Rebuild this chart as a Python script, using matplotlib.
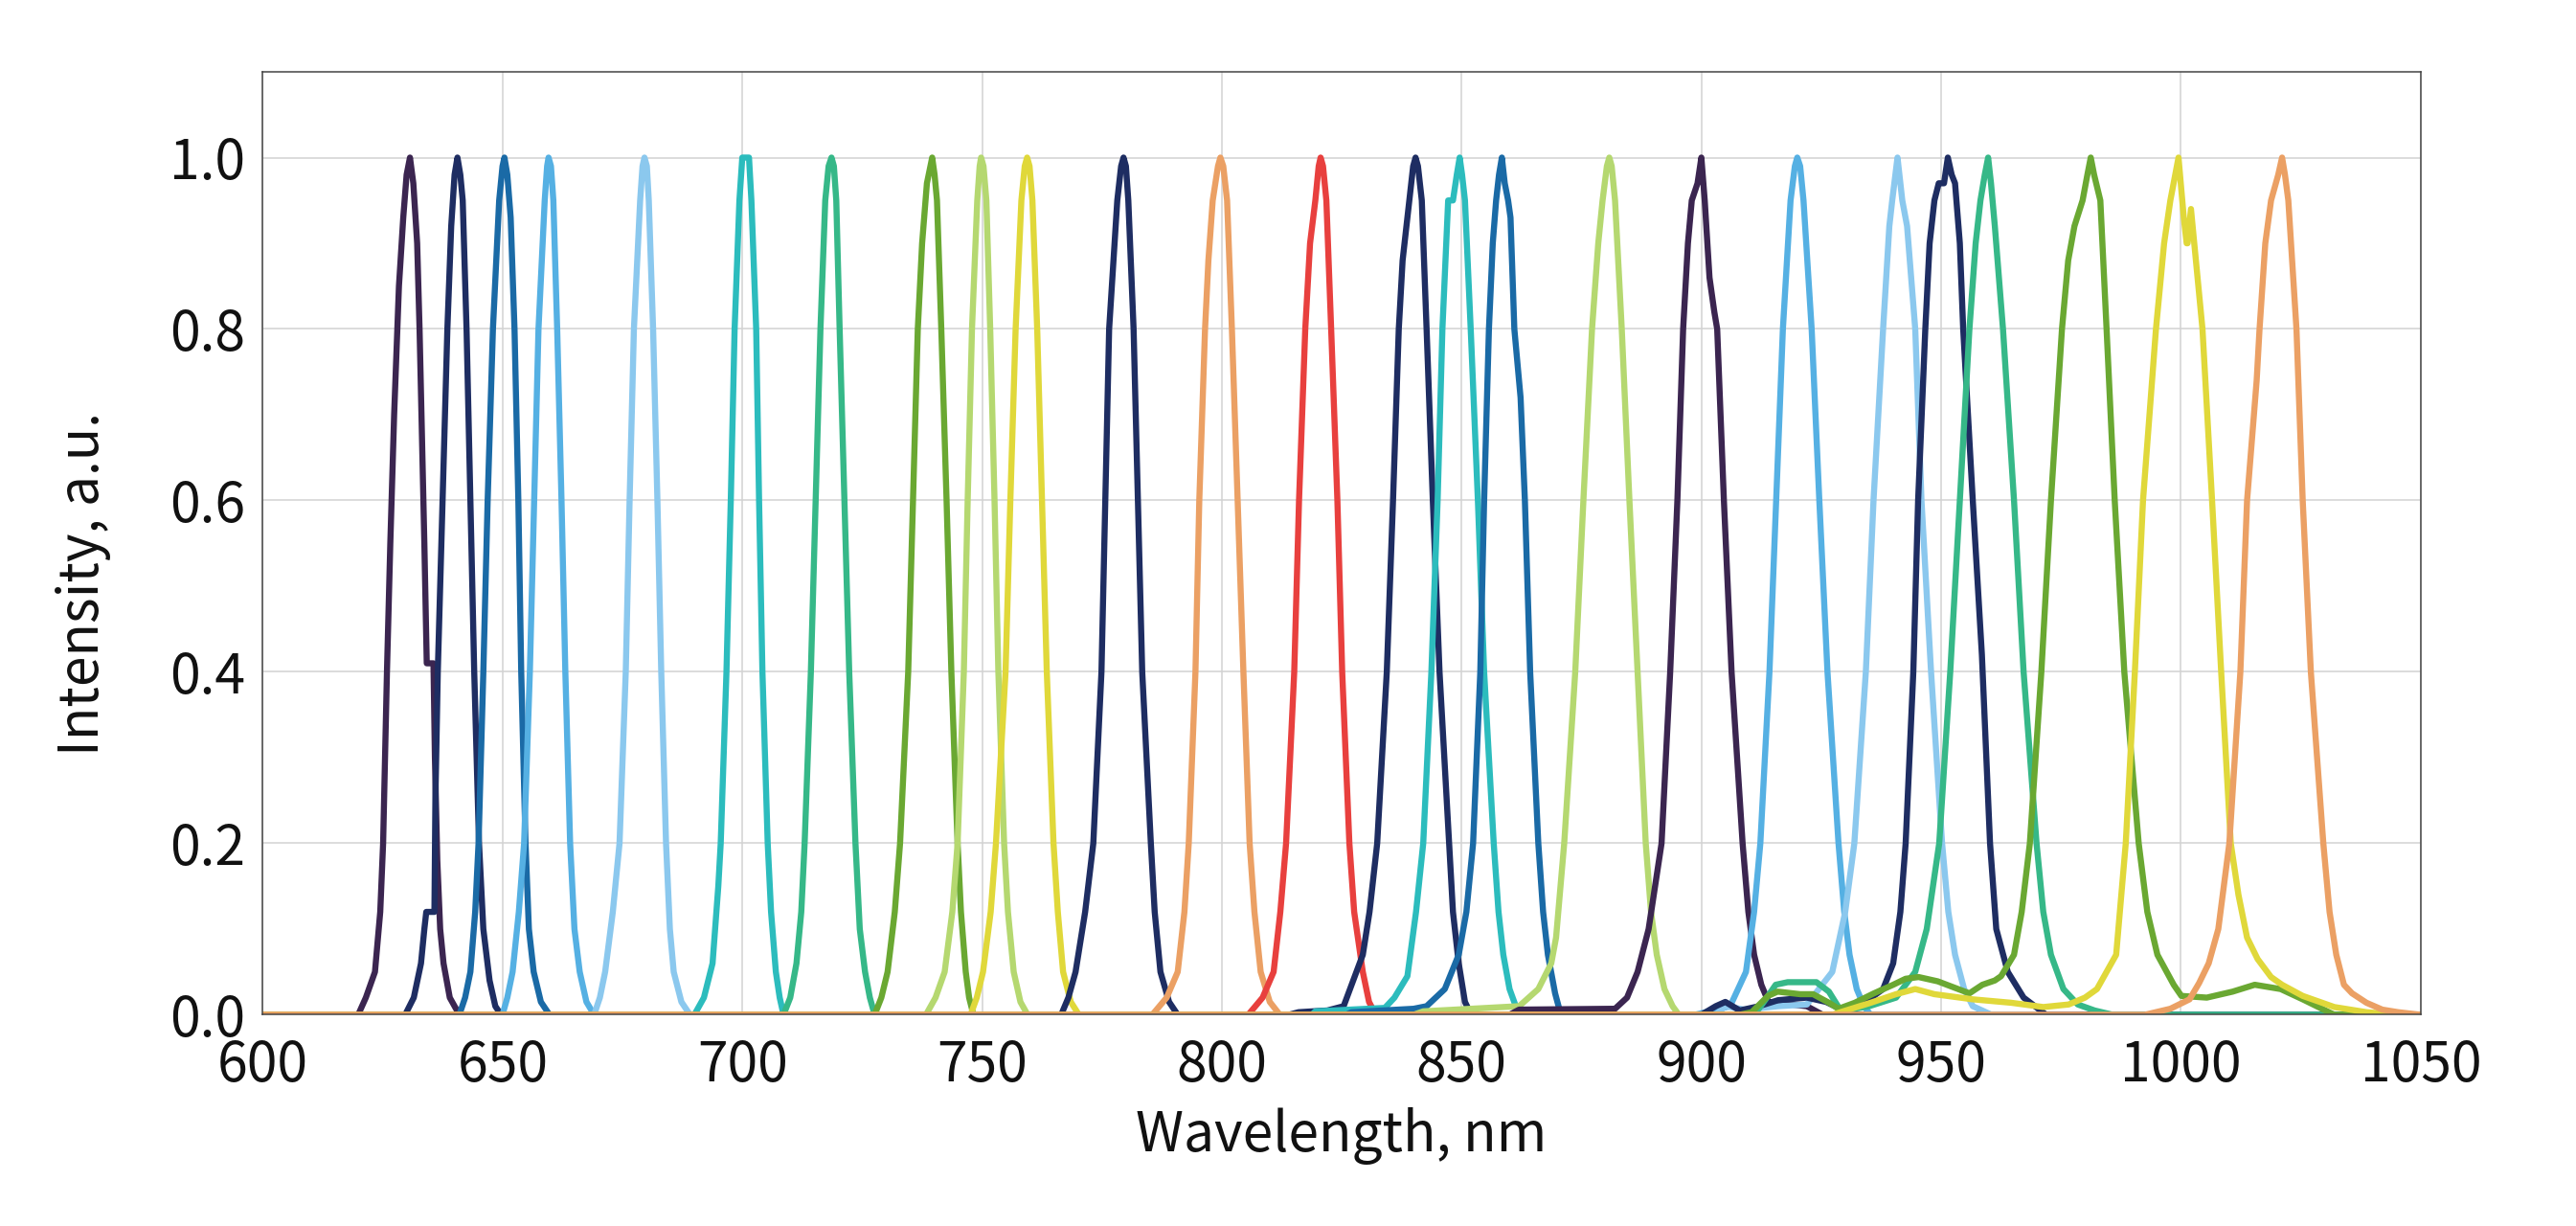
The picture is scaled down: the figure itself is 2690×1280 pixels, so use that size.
import matplotlib.pyplot as plt

plt.rcParams['font.family'] = ['Noto Sans CJK SC', 'DejaVu Sans']
plt.rcParams['font.weight'] = 'light'

# measured spectra, wavelength (nm) and normalised intensity
wl_630 = [600, 619.9, 621.5, 623.4, 624.5, 625.1, 625.9, 626.6, 627.4, 628.4, 629.3, 630.0, 630.7, 631.4,
          632.2, 632.7, 633.3, 633.7, 634.2, 635.6, 635.9, 636.4, 637.0, 637.7, 639.0, 641.0, 1050]
in_630 = [0, 0, 0.02, 0.05, 0.12, 0.2, 0.4, 0.55, 0.7, 0.85, 0.93, 0.98, 1.0, 0.97,
          0.9, 0.8, 0.65, 0.55, 0.41, 0.41, 0.3, 0.18, 0.1, 0.06, 0.02, 0, 0]

wl_640 = [600, 629.7, 631.5, 633.0, 633.7, 634.1, 635.8, 636.0, 636.5, 637.0, 637.5, 638.5, 639.3, 640.0,
          640.6, 641.2, 641.7, 642.5, 643.3, 644.1, 645.1, 646.0, 647.3, 648.5, 649.7, 1050]
in_640 = [0, 0, 0.02, 0.06, 0.1, 0.12, 0.12, 0.25, 0.4, 0.5, 0.6, 0.8, 0.92, 0.98,
          1.0, 0.98, 0.95, 0.8, 0.6, 0.4, 0.2, 0.1, 0.04, 0.01, 0, 0]

wl_650 = [600, 641.0, 642.2, 643.3, 644.3, 645.0, 646.0, 646.9, 648.0, 649.3, 650.0, 650.4, 651.0, 651.7,
          652.5, 653.3, 653.9, 654.8, 655.5, 656.5, 658.0, 659.8, 1050]
in_650 = [0, 0, 0.02, 0.05, 0.12, 0.2, 0.4, 0.6, 0.8, 0.95, 0.99, 1.0, 0.98, 0.93,
          0.8, 0.6, 0.4, 0.2, 0.1, 0.05, 0.015, 0, 0]

wl_660 = [600, 650.0, 651.0, 652.1, 653.4, 654.5, 655.7, 656.6, 657.5, 658.8, 659.3, 659.6, 660.1, 660.6,
          661.4, 662.3, 663.1, 664.1, 665.0, 666.1, 667.5, 669.1, 1050]
in_660 = [0, 0, 0.02, 0.05, 0.12, 0.2, 0.4, 0.6, 0.8, 0.95, 0.99, 1.0, 0.99, 0.95,
          0.8, 0.6, 0.4, 0.2, 0.1, 0.05, 0.015, 0, 0]

wl_680 = [600, 669.1, 670.3, 671.4, 673.0, 674.4, 675.7, 676.5, 677.4, 678.7, 679.2, 679.6, 680.1, 680.5,
          681.4, 682.3, 683.1, 684.1, 684.9, 685.7, 687.3, 689.1, 1050]
in_680 = [0, 0, 0.02, 0.05, 0.12, 0.2, 0.4, 0.6, 0.8, 0.95, 0.99, 1.0, 0.99, 0.95,
          0.8, 0.6, 0.4, 0.2, 0.1, 0.05, 0.015, 0, 0]

wl_700 = [600, 690.0, 692.0, 693.8, 695.0, 695.5, 696.7, 697.6, 698.4, 699.4, 700.0, 701.4, 701.9, 702.9,
          703.5, 704.2, 705.3, 706.0, 707.0, 707.8, 708.6, 1050]
in_700 = [0, 0, 0.02, 0.06, 0.15, 0.2, 0.4, 0.6, 0.8, 0.95, 1.0, 1.0, 0.95, 0.8,
          0.6, 0.4, 0.2, 0.12, 0.05, 0.02, 0, 0]

wl_718 = [600, 708.6, 710.0, 711.3, 712.3, 713.0, 714.3, 715.3, 716.3, 717.3, 718.0, 718.6, 719.1, 719.6,
          720.3, 721.3, 722.3, 723.6, 724.5, 725.6, 726.6, 727.6, 1050]
in_718 = [0, 0, 0.02, 0.06, 0.12, 0.2, 0.4, 0.6, 0.8, 0.95, 0.99, 1.0, 0.99, 0.95,
          0.8, 0.6, 0.4, 0.2, 0.1, 0.05, 0.02, 0, 0]

wl_739 = [600, 727.6, 729.0, 730.3, 731.8, 732.9, 734.6, 735.6, 736.6, 737.5, 738.5, 739.6, 740.1, 740.6,
          741.5, 742.6, 743.6, 744.9, 745.6, 746.6, 747.3, 748.2, 1050]
in_739 = [0, 0, 0.02, 0.05, 0.12, 0.2, 0.4, 0.6, 0.8, 0.9, 0.97, 1.0, 0.98, 0.95,
          0.8, 0.6, 0.4, 0.2, 0.12, 0.05, 0.02, 0, 0]

wl_749 = [600, 738.3, 740.3, 742.2, 743.8, 744.9, 746.2, 747.0, 747.9, 749.0, 749.5, 749.8, 750.3, 750.9,
          751.7, 752.6, 753.4, 754.6, 755.4, 756.6, 758.0, 759.5, 1050]
in_749 = [0, 0, 0.02, 0.05, 0.12, 0.2, 0.4, 0.6, 0.8, 0.95, 0.99, 1.0, 0.99, 0.95,
          0.8, 0.6, 0.4, 0.2, 0.12, 0.05, 0.015, 0, 0]

wl_759 = [600, 747.6, 748.9, 750.2, 751.8, 752.9, 754.9, 755.9, 757.0, 758.2, 758.9, 759.4, 759.9, 760.5,
          761.5, 762.5, 763.5, 764.9, 765.8, 766.9, 768.5, 770.2, 1050]
in_759 = [0, 0, 0.02, 0.05, 0.12, 0.2, 0.4, 0.6, 0.8, 0.95, 0.99, 1.0, 0.99, 0.95,
          0.8, 0.6, 0.4, 0.2, 0.12, 0.05, 0.015, 0, 0]

wl_779 = [600, 766.5, 768.0, 769.5, 771.5, 773.2, 774.9, 775.7, 776.5, 778.2, 779.0, 779.5, 780.0, 780.5,
          781.6, 782.5, 783.4, 785.2, 786.0, 787.2, 789.0, 790.8, 1050]
in_779 = [0, 0, 0.02, 0.05, 0.12, 0.2, 0.4, 0.6, 0.8, 0.95, 0.99, 1.0, 0.99, 0.95,
          0.8, 0.6, 0.4, 0.2, 0.12, 0.05, 0.015, 0, 0]

wl_800 = [600, 785.5, 788.5, 790.8, 792.2, 793.1, 794.5, 795.3, 796.5, 797.2, 798.1, 799.2, 799.7, 800.3,
          801.1, 802.1, 803.3, 804.5, 805.8, 806.8, 808.1, 810.0, 812.1, 1050]
in_800 = [0, 0, 0.02, 0.05, 0.12, 0.2, 0.4, 0.6, 0.8, 0.88, 0.95, 0.99, 1.0, 0.99,
          0.95, 0.8, 0.6, 0.4, 0.2, 0.12, 0.05, 0.015, 0, 0]

wl_820 = [600, 805.5, 808.5, 810.8, 812.2, 813.4, 815.1, 816.1, 817.4, 818.4, 819.5, 820.2, 820.6, 821.1,
          821.8, 822.8, 824.1, 825.1, 826.6, 827.6, 829.4, 830.7, 832.1, 1050]
in_820 = [0, 0, 0.02, 0.05, 0.12, 0.2, 0.4, 0.6, 0.8, 0.9, 0.95, 0.99, 1.0, 0.99,
          0.95, 0.8, 0.6, 0.4, 0.2, 0.12, 0.05, 0.015, 0, 0]

wl_840 = [600, 814.0, 816.0, 822.0, 825.4, 829.4, 830.8, 832.4, 834.4, 835.7, 836.9, 837.7, 839.1, 839.9,
          840.4, 840.9, 841.7, 842.7, 844.0, 845.4, 847.4, 848.2, 849.4, 850.7, 852.0, 1050]
in_840 = [0, 0, 0.003, 0.005, 0.01, 0.07, 0.12, 0.2, 0.4, 0.6, 0.8, 0.88, 0.95, 0.99,
          1.0, 0.99, 0.95, 0.8, 0.6, 0.4, 0.2, 0.12, 0.06, 0.015, 0, 0]

wl_849 = [600, 818.8, 819.5, 834.0, 836.0, 838.7, 840.5, 842.0, 843.7, 845.0, 846.0, 847.2, 848.2, 849.0,
          849.6, 850.1, 850.7, 851.9, 853.4, 854.7, 856.7, 857.7, 858.7, 860.0, 861.3, 862.0, 1050]
in_849 = [0, 0, 0.004, 0.008, 0.02, 0.045, 0.12, 0.2, 0.4, 0.6, 0.8, 0.95, 0.95, 0.98,
          1.0, 0.98, 0.95, 0.8, 0.6, 0.4, 0.2, 0.12, 0.07, 0.03, 0.01, 0, 0]

wl_858 = [600, 826.0, 827.0, 840.0, 842.7, 846.5, 849.4, 851.0, 852.4, 853.9, 854.7, 855.7, 856.5, 857.2,
          857.8, 858.4, 859.0, 859.7, 860.2, 861.0, 862.3, 863.2, 864.3, 866.0, 867.0, 868.0, 869.5, 870.7, 1050]
in_858 = [0, 0, 0.003, 0.007, 0.01, 0.03, 0.07, 0.12, 0.2, 0.4, 0.6, 0.8, 0.9, 0.95,
          0.98, 1.0, 0.97, 0.95, 0.93, 0.8, 0.72, 0.6, 0.4, 0.2, 0.12, 0.07, 0.025, 0, 0]

wl_880 = [600, 840.0, 842.0, 862.0, 866.0, 868.7, 869.7, 871.4, 873.7, 875.4, 877.2, 878.5, 879.4, 880.3,
          880.8, 881.3, 882.0, 883.4, 885.0, 886.7, 888.4, 889.5, 890.7, 892.3, 894.0, 895.3, 1050]
in_880 = [0, 0, 0.004, 0.01, 0.03, 0.06, 0.09, 0.2, 0.4, 0.6, 0.8, 0.9, 0.95, 0.99,
          1.0, 0.99, 0.95, 0.8, 0.6, 0.4, 0.2, 0.12, 0.07, 0.03, 0.01, 0, 0]

wl_900 = [600, 860.0, 862.0, 882.0, 884.5, 886.7, 889.0, 891.7, 893.5, 895.0, 896.2, 897.2, 898.0, 899.2,
          900.0, 900.7, 901.7, 902.7, 903.3, 904.7, 906.3, 908.6, 909.8, 911.0, 912.5, 914.0, 922.0, 925.3, 1050]
in_900 = [0, 0, 0.006, 0.007, 0.02, 0.05, 0.1, 0.2, 0.4, 0.6, 0.8, 0.9, 0.95, 0.97,
          1.0, 0.95, 0.86, 0.82, 0.8, 0.6, 0.4, 0.2, 0.12, 0.07, 0.035, 0.015, 0.01, 0, 0]

wl_920 = [600, 898.7, 906.0, 909.3, 911.0, 912.3, 914.2, 915.6, 917.0, 918.6, 919.5, 920.0, 920.6, 921.3,
          923.0, 924.6, 926.3, 928.6, 929.8, 930.9, 932.4, 933.9, 935.3, 1050]
in_920 = [0, 0, 0.01, 0.05, 0.12, 0.2, 0.4, 0.6, 0.8, 0.95, 0.99, 1.0, 0.99, 0.95,
          0.8, 0.6, 0.4, 0.2, 0.12, 0.07, 0.03, 0.01, 0, 0]

wl_940 = [600, 903.0, 905.0, 909.0, 916.0, 922.0, 927.3, 930.0, 931.9, 934.3, 935.9, 937.9, 939.2, 939.8,
          940.9, 941.5, 941.9, 942.9, 944.6, 945.9, 947.9, 950.2, 951.5, 952.9, 954.8, 956.6, 960.5, 1050]
in_940 = [0, 0, 0.01, 0.006, 0.01, 0.012, 0.05, 0.12, 0.2, 0.4, 0.6, 0.8, 0.92, 0.95,
          1.0, 0.97, 0.95, 0.92, 0.8, 0.6, 0.4, 0.2, 0.12, 0.07, 0.03, 0.01, 0, 0]

wl_952 = [600, 900.0, 903.0, 905.0, 908.0, 912.0, 916.0, 922.0, 926.0, 929.0, 933.0, 937.9, 940.0, 941.5,
          942.6, 944.2, 945.2, 946.7, 947.6, 948.6, 949.5, 950.6, 951.4, 952.2, 952.9, 953.9, 954.6, 956.6,
          958.5, 960.2, 961.5, 963.9, 967.2, 971.9, 1050]
in_952 = [0, 0, 0.01, 0.015, 0.005, 0.01, 0.017, 0.02, 0.015, 0.007, 0.01, 0.03, 0.06, 0.12,
          0.2, 0.4, 0.6, 0.8, 0.9, 0.95, 0.97, 0.97, 1.0, 0.98, 0.97, 0.9, 0.8, 0.6,
          0.42, 0.2, 0.1, 0.05, 0.02, 0, 0]

wl_960 = [600, 910.0, 912.0, 913.9, 915.5, 918.0, 924.0, 926.6, 928.6, 930.0, 935.0, 940.6, 944.6, 947.0,
          949.6, 951.9, 953.9, 955.9, 957.2, 958.2, 959.1, 959.8, 960.4, 961.2, 962.9, 965.2, 967.2, 969.9,
          971.3, 972.9, 975.5, 978.5, 982.0, 985.8, 1050]
in_960 = [0, 0, 0.007, 0.022, 0.035, 0.038, 0.038, 0.027, 0.009, 0.005, 0.01, 0.02, 0.05, 0.1,
          0.2, 0.4, 0.6, 0.8, 0.9, 0.95, 0.98, 1.0, 0.97, 0.92, 0.8, 0.6, 0.4, 0.2,
          0.12, 0.07, 0.03, 0.012, 0.005, 0, 0]

wl_980 = [600, 908.0, 910.5, 913.9, 915.9, 920.6, 923.3, 926.6, 928.6, 932.0, 936.0, 940.0, 942.6, 945.3,
          949.3, 955.9, 958.6, 961.2, 962.5, 965.2, 966.8, 968.5, 970.9, 972.9, 975.2, 976.5, 977.8, 979.5,
          980.5, 981.2, 981.9, 983.2, 984.5, 986.2, 988.2, 991.2, 993.0, 995.1, 998.5, 1000.1, 1005.4, 1010.8,
          1015.4, 1020.8, 1025.4, 1029.4, 1032.0, 1050]
in_980 = [0, 0, 0.003, 0.022, 0.027, 0.024, 0.024, 0.014, 0.007, 0.014, 0.025, 0.035, 0.042, 0.044,
          0.039, 0.025, 0.035, 0.04, 0.045, 0.07, 0.12, 0.2, 0.4, 0.6, 0.8, 0.88, 0.92, 0.95,
          0.98, 1.0, 0.98, 0.95, 0.8, 0.6, 0.4, 0.2, 0.12, 0.07, 0.035, 0.022, 0.02, 0.027,
          0.035, 0.03, 0.018, 0.007, 0, 0]

wl_1000 = [600, 927.3, 935.3, 940.6, 944.6, 948.6, 956.6, 964.6, 971.3, 976.6, 980.0, 982.5, 984.5, 986.5,
           988.5, 990.4, 992.1, 994.8, 996.5, 997.8, 999.5, 1000.6, 1001.2, 1001.4, 1002.1, 1004.5, 1006.5,
           1008.4, 1010.4, 1012.0, 1013.8, 1016.0, 1018.8, 1021.1, 1025.4, 1032.0, 1038.7, 1045.0, 1050]
in_1000 = [0, 0, 0.014, 0.024, 0.03, 0.024, 0.018, 0.014, 0.009, 0.012, 0.02, 0.03, 0.05, 0.07,
           0.2, 0.4, 0.6, 0.8, 0.9, 0.95, 1.0, 0.93, 0.9, 0.9, 0.94, 0.8, 0.6,
           0.4, 0.2, 0.14, 0.09, 0.065, 0.044, 0.035, 0.022, 0.009, 0.003, 0, 0]

wl_1021 = [600, 992.5, 997.8, 1001.8, 1003.8, 1005.8, 1007.8, 1010.1, 1012.4, 1013.8, 1015.8, 1016.4, 1017.6,
           1018.8, 1020.3, 1021.1, 1021.7, 1022.4, 1024.1, 1025.4, 1027.1, 1029.7, 1031.0, 1032.4, 1034.0,
           1035.7, 1038.7, 1042.0, 1045.3, 1050]
in_1021 = [0, 0, 0.007, 0.018, 0.037, 0.06, 0.1, 0.2, 0.4, 0.6, 0.74, 0.8, 0.9,
           0.95, 0.98, 1.0, 0.98, 0.95, 0.8, 0.6, 0.4, 0.2, 0.12, 0.07, 0.035,
           0.025, 0.014, 0.006, 0.003, 0]

spectra = [
    (wl_630, in_630), (wl_640, in_640), (wl_650, in_650), (wl_660, in_660), (wl_680, in_680),
    (wl_700, in_700), (wl_718, in_718), (wl_739, in_739), (wl_749, in_749), (wl_759, in_759),
    (wl_779, in_779), (wl_800, in_800), (wl_820, in_820), (wl_840, in_840), (wl_849, in_849),
    (wl_858, in_858), (wl_880, in_880), (wl_900, in_900), (wl_920, in_920), (wl_940, in_940),
    (wl_952, in_952), (wl_960, in_960), (wl_980, in_980), (wl_1000, in_1000), (wl_1021, in_1021),
]

purple, navy, blue, mblue, lblue = '#3b2550', '#1e2d62', '#1a6aa6', '#55b0e3', '#8bc8ee'
teal, gteal, olive, lgreen, yellow = '#2cbcbd', '#36b888', '#6aa832', '#b5d870', '#e0d83a'
orange, red = '#eba064', '#e8403e'
colors = [purple, navy, blue, mblue, lblue, teal, gteal, olive, lgreen, yellow,
          navy, orange, red, navy, teal, blue, lgreen, purple, mblue, lblue,
          navy, gteal, olive, yellow, orange]

fig = plt.figure(figsize=(26.9, 12.8), dpi=100)
ax = fig.add_axes([0.102, 0.1723, 0.8377, 0.7691])

for (x, y), c in zip(spectra, colors):
    ax.plot(x, y, color=c, lw=4.6, solid_joinstyle='round', solid_capstyle='round')

ax.set_xlim(600, 1050)
ax.set_ylim(0, 1.1)
ax.set_xticks(range(600, 1051, 50))
ax.set_yticks([0, 0.2, 0.4, 0.6, 0.8, 1.0])
ax.set_yticklabels(['0.0', '0.2', '0.4', '0.6', '0.8', '1.0'])
ax.grid(True, color='#d2d2d2', lw=1.1)
ax.set_axisbelow(True)
ax.tick_params(length=0, labelsize=41, colors='#111111')
ax.tick_params(axis='x', pad=17)
ax.tick_params(axis='y', pad=13)
for s in ax.spines.values():
    s.set_color('#444444')
    s.set_linewidth(1.1)

ax.set_xlabel('Wavelength, nm', fontsize=41, color='#111111')
ax.set_ylabel('Intensity, a.u.', fontsize=41, color='#111111')
ax.xaxis.set_label_coords(0.5, -0.098)
ax.yaxis.set_label_coords(-0.0703, 0.457)

fig.savefig('out.png', dpi=100)
